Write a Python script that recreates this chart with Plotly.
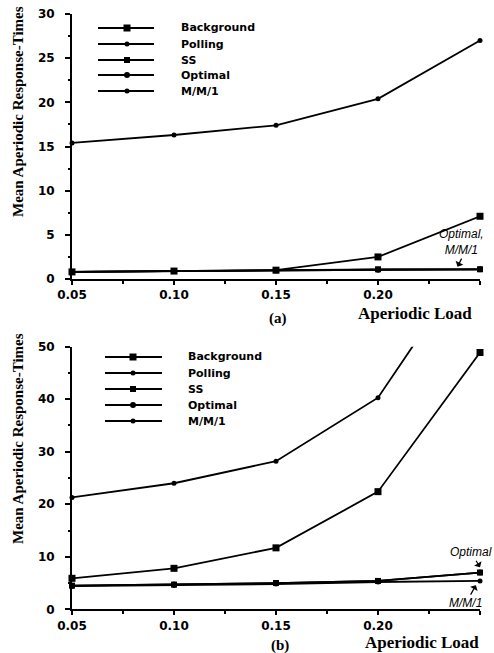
import plotly.graph_objects as go

# ---------------- data ----------------
LOAD = [0.05, 0.10, 0.15, 0.20, 0.25]
LOAD_LABELS = ["0.05", "0.10", "0.15", "0.20", "0.25"]
SERIES = ["Background", "Polling", "SS", "Optimal", "M/M/1"]

# panel (a)
A_BACKGROUND = [0.8, 0.9, 1.0, 2.5, 7.1]
A_POLLING = [15.4, 16.3, 17.4, 20.4, 27.0]
A_SS = [0.8, 0.9, 1.0, 1.1, 1.1]
A_OPTIMAL = [0.8, 0.9, 1.0, 1.05, 1.1]
A_MM1 = [0.8, 0.9, 1.0, 1.05, 1.1]

# panel (b)
B_BACKGROUND = [5.9, 7.8, 11.7, 22.4, 48.9]
B_POLLING = [21.3, 24.0, 28.2, 40.3, 69.0]
B_SS = [4.5, 4.7, 5.0, 5.4, 7.0]
B_OPTIMAL = [4.5, 4.7, 5.0, 5.4, 7.0]
B_MM1 = [4.4, 4.6, 4.8, 5.2, 5.4]

A_YMAX, B_YMAX = 30, 50

# ---------------- style ----------------
W, H = 494, 653
SYMBOLS = {"Background": ("square", 7), "Polling": ("circle", 5),
           "SS": ("square", 6), "Optimal": ("circle", 6), "M/M/1": ("circle", 5)}
TICKFONT = dict(family="DejaVu Sans", size=12, color="black", weight="bold")
SERIF = "Liberation Serif"

fig = go.Figure()


def add_series(xaxis, yaxis, name, ys, ymax):
    sym, sz = SYMBOLS[name]
    fig.add_trace(go.Scatter(x=LOAD, y=ys, mode="lines", xaxis=xaxis, yaxis=yaxis,
                             line=dict(color="black", width=1.8), showlegend=False,
                             cliponaxis=True, name=name))
    px = [x for x, y in zip(LOAD, ys) if y <= ymax]
    py = [y for y in ys if y <= ymax]
    fig.add_trace(go.Scatter(x=px, y=py, mode="markers", xaxis=xaxis, yaxis=yaxis,
                             marker=dict(symbol=sym, size=sz, color="black"),
                             showlegend=False, cliponaxis=False, name=name))


for name, ys in zip(SERIES, [A_BACKGROUND, A_POLLING, A_SS, A_OPTIMAL, A_MM1]):
    add_series("x", "y", name, ys, A_YMAX)
for name, ys in zip(SERIES, [B_BACKGROUND, B_POLLING, B_SS, B_OPTIMAL, B_MM1]):
    add_series("x2", "y2", name, ys, B_YMAX)


def px2paper(xp, yp):
    return xp / W, 1 - yp / H


def xaxis_style(anchor, domain):
    return dict(domain=domain, anchor=anchor, range=[0.05, 0.25], tickvals=LOAD,
                ticktext=LOAD_LABELS, ticks="outside", ticklen=4, tickwidth=2,
                tickcolor="black", showline=True, linewidth=2, linecolor="black",
                showgrid=False, zeroline=False, tickfont=TICKFONT, ticklabelstandoff=0,
                automargin=False,
                minor=dict(tickvals=[0.075, 0.125, 0.175, 0.225], ticks="outside",
                           ticklen=3, tickwidth=2, tickcolor="black"))


def yaxis_style(anchor, domain, ymax, dtick):
    return dict(domain=domain, anchor=anchor, range=[0, ymax], dtick=dtick,
                ticks="outside", ticklen=5, tickwidth=2, tickcolor="black",
                showline=True, linewidth=2, linecolor="black", showgrid=False,
                zeroline=False, tickfont=TICKFONT, ticklabelstandoff=8,
                automargin=False,
                minor=dict(dtick=dtick / 2, ticks="outside", ticklen=2, tickwidth=2,
                           tickcolor="black"))


xd = [72 / W, 480 / W]
ya = [1 - 279 / H, 1 - 14 / H]
yb = [1 - 609.3 / H, 1 - 346.7 / H]

fig.update_layout(
    width=W, height=H, margin=dict(l=0, r=0, t=0, b=0, pad=0, autoexpand=False),
    paper_bgcolor="white", plot_bgcolor="white", showlegend=False,
    xaxis=xaxis_style("y", xd), yaxis=yaxis_style("x", ya, A_YMAX, 5),
    xaxis2=xaxis_style("y2", xd), yaxis2=yaxis_style("x2", yb, B_YMAX, 10),
)

# ---------------- manual legends ----------------
shapes, annos = [], []


def legend(x0, x1, xm, xt, rows):
    for name, yp in zip(SERIES, rows):
        sym, sz = SYMBOLS[name]
        a, b = px2paper(x0, yp)
        c, _ = px2paper(x1, yp)
        shapes.append(dict(type="line", xref="paper", yref="paper", x0=a, x1=c, y0=b, y1=b,
                           line=dict(color="black", width=1.8)))
        r = sz / 2
        mx0, my0 = px2paper(xm - r, yp - r)
        mx1, my1 = px2paper(xm + r, yp + r)
        shapes.append(dict(type="rect" if sym == "square" else "circle", xref="paper",
                           yref="paper", x0=mx0, x1=mx1, y0=my1, y1=my0,
                           fillcolor="black", line=dict(color="black", width=0)))
        tx, ty = px2paper(xt, yp)
        annos.append(dict(xref="paper", yref="paper", x=tx, y=ty, xanchor="left",
                          yanchor="middle", showarrow=False, text=name,
                          font=dict(family="DejaVu Sans", size=11, color="black",
                                    weight="bold")))


legend(98, 154, 127, 179, [28, 44, 60, 75, 91])
legend(105, 162, 133, 186, [357, 373, 389, 405, 421])

# axis titles and panel labels
ytitle_font = dict(family=SERIF, size=15, color="black", weight="bold")
for yc in (112, 439):
    x, y = px2paper(18, yc)
    annos.append(dict(xref="paper", yref="paper", x=x, y=y, textangle=-90, showarrow=False,
                      text="Mean Aperiodic Response-Times", font=ytitle_font,
                      xanchor="center", yanchor="middle"))
for xr, yc in ((474, 313), (481, 642)):
    x, y = px2paper(xr, yc)
    annos.append(dict(xref="paper", yref="paper", x=x, y=y, xanchor="right", yanchor="middle",
                      showarrow=False, text="Aperiodic Load",
                      font=dict(family=SERIF, size=17, color="black", weight="bold")))
for lab, xc, yc in (("(a)", 278, 318), ("(b)", 280, 645)):
    x, y = px2paper(xc, yc)
    annos.append(dict(xref="paper", yref="paper", x=x, y=y, showarrow=False, text=lab,
                      xanchor="center", yanchor="middle",
                      font=dict(family=SERIF, size=15, color="black", weight="bold")))

# curve labels with arrows
ital = dict(family="Liberation Sans", size=12, color="black", style="italic")
annos.append(dict(xref="x", yref="y", x=0.239, y=1.4, ax=4, ay=-8, text="Optimal,<br>M/M/1",
                  showarrow=True, arrowhead=1, arrowsize=1.2, arrowwidth=1.2,
                  arrowcolor="black", font=ital, yanchor="bottom", xanchor="center"))
annos.append(dict(xref="x2", yref="y2", x=0.25, y=8.0, ax=-9, ay=-15, text="Optimal",
                  showarrow=True, arrowhead=1, arrowsize=1.2, arrowwidth=1.2,
                  arrowcolor="black", font=ital, xanchor="center", yanchor="middle"))
annos.append(dict(xref="x2", yref="y2", x=0.248, y=4.6, ax=-10, ay=18, text="M/M/1",
                  showarrow=True, arrowhead=1, arrowsize=1.2, arrowwidth=1.2,
                  arrowcolor="black", font=ital, xanchor="center", yanchor="middle"))

fig.update_layout(shapes=shapes, annotations=annos)
fig.write_html("out.html")
